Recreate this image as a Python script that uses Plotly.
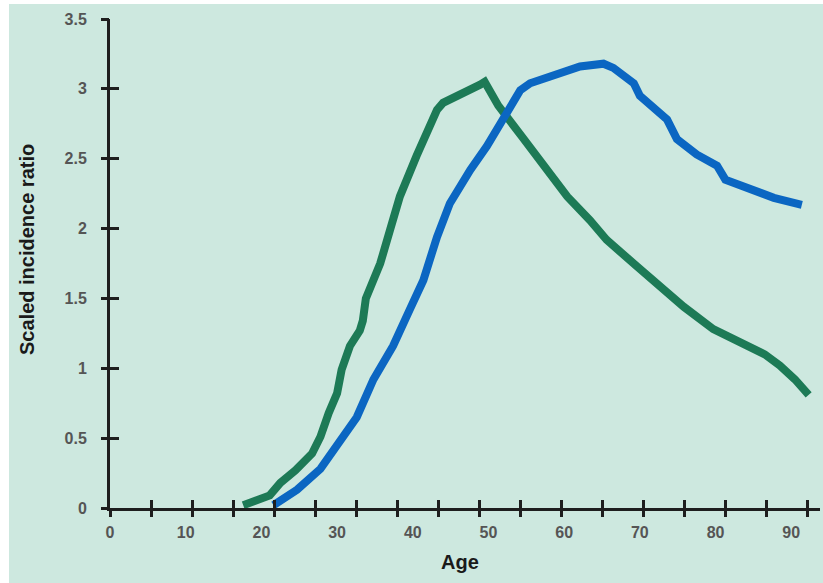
import plotly.graph_objects as go

# Data
green_age = [17.6, 21.1, 22.5, 24.5, 26.7, 27.8, 28.9, 30.0, 30.6, 31.7, 33.0, 33.4, 33.8, 35.7, 37.0,
             38.3, 40.5, 43.2, 44.0, 46.5, 48.9, 49.5,
             51.3, 54.4, 56.8, 60.4, 63.4, 65.6, 69.6, 72.2, 75.8, 79.7, 84.1, 86.5, 88.5, 90.5, 92.3]
green_val = [0.02, 0.09, 0.18, 0.27, 0.39, 0.51, 0.68, 0.82, 0.99, 1.16, 1.27, 1.34, 1.50, 1.75, 1.99,
             2.23, 2.52, 2.85, 2.90, 2.96, 3.03, 3.05,
             2.88, 2.66, 2.49, 2.23, 2.06, 1.92, 1.73, 1.61, 1.44, 1.28, 1.16, 1.10, 1.02, 0.92, 0.81]

blue_age = [21.6, 24.7, 27.8, 30.0, 32.6, 34.8, 37.4, 39.6, 41.4, 43.2, 44.9, 47.6, 49.8, 52.0, 54.2, 55.5,
            57.7, 60.8, 62.1, 65.2, 66.5, 69.2, 70.0, 73.6, 74.9, 77.5, 80.2, 81.3, 84.1, 87.7, 91.4]
blue_val = [0.02, 0.13, 0.28, 0.44, 0.65, 0.92, 1.16, 1.42, 1.63, 1.94, 2.18, 2.42, 2.59, 2.79, 2.99, 3.04,
            3.08, 3.13, 3.16, 3.18, 3.15, 3.04, 2.95, 2.78, 2.64, 2.53, 2.45, 2.35, 2.29, 2.22, 2.17]

x_ticks = [0, 10, 20, 30, 40, 50, 60, 70, 80, 90]
y_ticks = [0, 0.5, 1, 1.5, 2, 2.5, 3, 3.5]
y_tick_text = ["0", "0.5", "1", "1.5", "2", "2.5", "3", "3.5"]

X_RANGE = [0, 93.8]
Y_RANGE = [0, 3.5]
MINOR_STEP = 5.42

BG = "#cde8df"
AXIS = "#1e1e1e"
TICKFONT = dict(family="Liberation Sans, Arial, sans-serif", size=16, color="#555555", weight="bold")
TITLEFONT = dict(family="Liberation Sans, Arial, sans-serif", size=20, color="#1a1a1a", weight="bold")

fig = go.Figure()
fig.add_trace(go.Scatter(x=green_age, y=green_val, mode="lines",
                         line=dict(color="#1d7a56", width=8), showlegend=False, cliponaxis=False))
fig.add_trace(go.Scatter(x=blue_age, y=blue_val, mode="lines",
                         line=dict(color="#0b66c2", width=8), showlegend=False, cliponaxis=False))

W, H = 823, 583
L, R, T, B = 110, 3, 19, 75
pw, ph = W - L - R, H - T - B

fig.update_layout(
    width=W, height=H,
    margin=dict(l=L, r=R, t=T, b=B),
    paper_bgcolor="white",
    plot_bgcolor="rgba(0,0,0,0)",
    font=dict(family="Liberation Sans, Arial, sans-serif"),
    xaxis=dict(range=X_RANGE, tickvals=x_ticks, ticks="outside", ticklen=8,
               tickcolor="rgba(0,0,0,0)", showgrid=False, zeroline=False,
               showline=True, linecolor=AXIS, linewidth=3, tickfont=TICKFONT, fixedrange=True),
    yaxis=dict(range=Y_RANGE, tickvals=y_ticks, ticktext=y_tick_text, ticks="outside", ticklen=17,
               tickcolor="rgba(0,0,0,0)", showgrid=False, zeroline=False,
               showline=True, linecolor=AXIS, linewidth=3, tickfont=TICKFONT, fixedrange=True),
    xaxis2=dict(overlaying="x", range=X_RANGE, tick0=0, dtick=MINOR_STEP, ticks="outside",
                ticklen=8, tickwidth=3, tickcolor=AXIS, showticklabels=False,
                showgrid=False, zeroline=False, showline=False, side="bottom", anchor="y"),
    xaxis3=dict(overlaying="x", range=X_RANGE, tick0=0, dtick=MINOR_STEP, ticks="inside",
                ticklen=8, tickwidth=3, tickcolor=AXIS, showticklabels=False,
                showgrid=False, zeroline=False, showline=False, side="bottom", anchor="y"),
    yaxis2=dict(overlaying="y", range=Y_RANGE, tickvals=y_ticks, ticks="outside",
                ticklen=8, tickwidth=3, tickcolor=AXIS, showticklabels=False,
                showgrid=False, zeroline=False, showline=False, side="left", anchor="x"),
    yaxis3=dict(overlaying="y", range=Y_RANGE, tickvals=y_ticks, ticks="inside",
                ticklen=9, tickwidth=3, tickcolor=AXIS, showticklabels=False,
                showgrid=False, zeroline=False, showline=False, side="left", anchor="x"),
    shapes=[dict(type="rect", xref="paper", yref="paper", layer="below",
                 x0=(9 - L) / pw, x1=1 + R / pw, y0=-B / ph, y1=1 + (T - 4) / ph,
                 fillcolor=BG, line=dict(width=0))],
    annotations=[
        dict(text="Age", xref="paper", yref="paper", x=(460 - L) / pw, y=-(562 - (T + ph)) / ph,
             showarrow=False, font=TITLEFONT, xanchor="center", yanchor="middle"),
        dict(text="Scaled incidence ratio", xref="paper", yref="paper", x=(27 - L) / pw,
             y=1 - (250 - T) / ph, textangle=-90, showarrow=False,
             font=TITLEFONT, xanchor="center", yanchor="middle"),
    ],
)

# dummy traces so overlay axes render
fig.add_trace(go.Scatter(x=[None], y=[None], xaxis="x2", yaxis="y2", showlegend=False, hoverinfo="skip"))
fig.add_trace(go.Scatter(x=[None], y=[None], xaxis="x3", yaxis="y3", showlegend=False, hoverinfo="skip"))

fig.write_html("out.html", config={"displayModeBar": False},
               post_script="document.body.style.margin='0';document.body.style.overflow='hidden';")
